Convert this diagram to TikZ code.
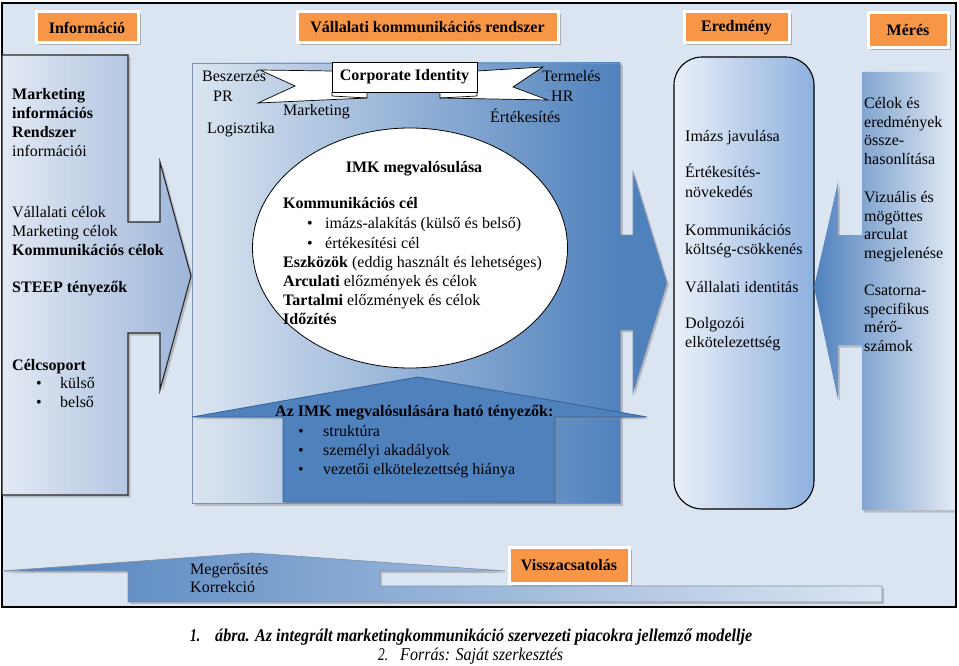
\documentclass[tikz,border=0pt]{standalone}
\usepackage{graphicx}
\usepackage{fontspec}
\setmainfont{Liberation Serif}
\usetikzlibrary{shadows,shapes.geometric}
\definecolor{bg}{HTML}{DBE5F1}
\definecolor{org}{HTML}{F79646}
\definecolor{dblue}{HTML}{4F81BD}
\definecolor{dline}{HTML}{35609A}
\definecolor{gline}{HTML}{7F91AD}
\definecolor{lfL}{HTML}{E3E9F3}
\definecolor{lfR}{HTML}{9DB5D9}
\definecolor{mdL}{HTML}{DBE5F1}
\definecolor{mdM}{HTML}{A4BCDF}
\definecolor{erL}{HTML}{EBF0F9}
\definecolor{erM}{HTML}{C9D8EE}
\definecolor{erR}{HTML}{8DB0DE}
\definecolor{msR}{HTML}{E3EAF4}
\definecolor{fbM}{HTML}{AFC3E2}
\definecolor{fbR}{HTML}{DCE5F2}
\newcommand\fsz{\fontsize{16}{19}\selectfont}
\newcommand\capfsz{\fontsize{18}{19}\selectfont}
\begin{document}
\begin{tikzpicture}[x=1pt,y=-1pt,
  txt/.style={anchor=base west,inner sep=0pt,font=\fsz},
  btxt/.style={anchor=base west,inner sep=0pt,font=\fsz\bfseries},
  bul/.style={anchor=base west,inner sep=0pt,font=\fsz},
  captxt/.style={anchor=base west,inner sep=0pt,font=\capfsz\itshape},
  hdr/.style={fill=org,draw=white,line width=3pt,font=\fsz\bfseries,inner sep=0pt,
    drop shadow={shadow xshift=2.5pt,shadow yshift=-2.5pt,fill=black!50,opacity=0.55}},
  shc/.style={fill=black!45,opacity=0.45}]
% canvas
\fill[white] (0,0) rectangle (959,666);
\useasboundingbox (0,0) rectangle (959,666);
\draw[fill=bg,line width=1.2pt] (2,3) rectangle (956,607);

% headers
\node[hdr,minimum width=102pt,minimum height=31pt] (hinfo) at (87,27.5) {Információ};
\node[hdr,minimum width=261pt,minimum height=31pt] (hvall) at (427.5,27.5) {Vállalati kommunikációs rendszer};
\node[hdr,minimum width=105pt,minimum height=31pt] (hered) at (736.5,27.5) {Eredmény};
\node[hdr,minimum width=80pt,minimum height=35pt] (hmeres) at (908,30) {Mérés};

% left information arrow
\fill[shc,shift={(2.5,2.5)}] (2,55) -- (128,55) -- (128,222) -- (160,222) -- (160,162) -- (191,276) -- (160,390) -- (160,333) -- (128,333) -- (128,495) -- (2,495) -- cycle;
\draw[line width=1.1pt,draw=black!85,left color=lfL,right color=lfR]
  (2,55) -- (128,55) -- (128,222) -- (160,222) -- (160,162) -- (191,276) -- (160,390) -- (160,333) -- (128,333) -- (128,495) -- (2,495) -- cycle;

% middle system box
\fill[shc,shift={(2.5,2.5)}] (192,63) rectangle (620,503);
\path[draw=gline,line width=0.8pt,left color=mdL,middle color=mdM,right color=dblue] (192,63) rectangle (620,503);
\fill[shc,shift={(2,2)}] (620,235) -- (633,235) -- (633,172) -- (667,283) -- (633,393) -- (633,330) -- (620,330) -- cycle;
\draw[draw=gline,line width=0.6pt,fill=dblue] (620,235) -- (633,235) -- (633,172) -- (667,283) -- (633,393) -- (633,330) -- (620,330);

% labels around ribbon
\node[txt] (besz) at (202,82) {Beszerzés};
\node[txt] (pr) at (213,102) {PR};
\node[txt] (mark) at (283,116) {Marketing};
\node[txt] (logi) at (207,134) {Logisztika};
\node[txt] (term) at (542,82) {Termelés};
\node[txt] (hr) at (551,102) {HR};
\node[txt] (ert) at (490,123) {Értékesítés};

% ribbon
\draw[fill=white,line width=0.7pt] (332,71) -- (260,70) -- (295,86) -- (258,103) -- (367,98) -- (367,92) -- cycle;
\draw[fill=white,line width=0.7pt] (477,71) -- (543,67) -- (513,87) -- (548,100) -- (440,98) -- (440,92) -- cycle;
\draw[line width=0.7pt] (332,92) -- (332,96) -- (367,98);
\draw[line width=0.7pt] (477,92) -- (477,96) -- (440,98);
\node[draw,fill=white,line width=0.8pt,minimum width=145pt,minimum height=30pt,inner sep=0pt,font=\fsz\bfseries] (ci) at (404.5,77) {Corporate Identity};

% ellipse
\node[draw,fill=white,ellipse,line width=0.8pt,minimum width=315pt,minimum height=240pt,inner sep=0pt] (imk) at (410,248) {};
\node[anchor=base,inner sep=0pt,font=\fsz\bfseries] (imkt) at (414,172) {IMK megvalósulása};
\node[btxt] (kc) at (283,208) {Kommunikációs cél};
\node[bul] (b1) at (307,229) {•};
\node[txt] (e1) at (325,229) {imázs-alakítás (külső és belső)};
\node[bul] (b2) at (307,248) {•};
\node[txt] (e2) at (325,248) {értékesítési cél};
\node[txt] (e3) at (283,267) {\textbf{Eszközök} (eddig használt és lehetséges)};
\node[txt] (e4) at (283,286) {\textbf{Arculati} előzmények és célok};
\node[txt] (e5) at (283,305) {\textbf{Tartalmi} előzmények és célok};
\node[btxt] (e6) at (283,324) {Időzítés};

% up arrow: factors
\fill[shc,shift={(2,2)}] (192,417) -- (418,377) -- (647,417) -- (555,417) -- (555,502) -- (283,502) -- (283,417) -- cycle;
\draw[draw=dline,line width=0.8pt,fill=dblue] (192,417) -- (418,377) -- (647,417) -- (555,417) -- (555,502) -- (283,502) -- (283,417) -- cycle;
\node[btxt] (ft) at (275,416) {Az IMK megvalósulására ható tényezők:};
\node[bul] (fb1) at (298,436) {•};
\node[txt] (f1) at (323,436) {struktúra};
\node[bul] (fb2) at (298,455) {•};
\node[txt] (f2) at (323,455) {személyi akadályok};
\node[bul] (fb3) at (298,474) {•};
\node[txt] (f3) at (323,474) {vezetői elkötelezettség hiánya};

% left texts
\node[btxt] (l1) at (12,100) {Marketing};
\node[btxt] (l2) at (12,119) {információs};
\node[btxt] (l3) at (12,138) {Rendszer};
\node[txt] (l4) at (12,157) {információi};
\node[txt] (l5) at (12,218) {Vállalati célok};
\node[txt] (l6) at (12,236) {Marketing célok};
\node[btxt] (l7) at (12,255) {Kommunikációs célok};
\node[btxt] (l8) at (12,292) {STEEP tényezők};
\node[btxt] (l9) at (12,370) {Célcsoport};
\node[bul] (lb1) at (36,388) {•};
\node[txt] (l10) at (60,388) {külső};
\node[bul] (lb2) at (36,407) {•};
\node[txt] (l11) at (60,407) {belső};

% result box
\node[draw,line width=1.1pt,rounded corners=28pt,minimum width=140pt,minimum height=452pt,inner sep=0pt,
  left color=erL,middle color=erM,right color=erR] (eredbox) at (744,283) {};
\node[txt] (r1) at (685,142) {Imázs javulása};
\node[txt] (r2) at (685,178) {Értékesítés-};
\node[txt] (r3) at (685,197) {növekedés};
\node[txt] (r4) at (685,235) {Kommunikációs};
\node[txt] (r5) at (685,254) {költség-csökkenés};
\node[txt] (r6) at (685,292) {Vállalati identitás};
\node[txt] (r7) at (685,328) {Dolgozói};
\node[txt] (r8) at (685,347) {elkötelezettség};

% measurement arrow
\fill[shc,shift={(2,2.5)}] (862,72) -- (955,72) -- (955,510) -- (862,510) -- (862,345) -- (838,345) -- (838,400) -- (814,287) -- (838,182) -- (838,235) -- (862,235) -- cycle;
\path[left color=dblue,right color=msR] (862,72) -- (955,72) -- (955,510) -- (862,510) -- (862,345) -- (838,345) -- (838,400) -- (814,287) -- (838,182) -- (838,235) -- (862,235) -- cycle;
\draw[line width=1.2pt] (956,3) -- (956,607);
\node[txt] (m1) at (864,109) {Célok és};
\node[txt] (m2) at (864,128) {eredmények};
\node[txt] (m3) at (864,146) {össze-};
\node[txt] (m4) at (864,165) {hasonlítása};
\node[txt] (m5) at (864,202) {Vizuális és};
\node[txt] (m6) at (864,221) {mögöttes};
\node[txt] (m7) at (864,240) {arculat};
\node[txt] (m8) at (864,258) {megjelenése};
\node[txt] (m9) at (864,295) {Csatorna-};
\node[txt] (m10) at (864,314) {specifikus};
\node[txt] (m11) at (864,332) {mérő-};
\node[txt] (m12) at (864,351) {számok};

% feedback arrow
\fill[shc,shift={(2,2)}] (2,571) -- (252,553) -- (505,571) -- (380,571) -- (380,586) -- (882,586) -- (882,602) -- (128,602) -- (128,571) -- cycle;
\draw[draw=gline,line width=0.7pt,left color=dblue,middle color=fbM,right color=fbR]
  (2,571) -- (252,553) -- (505,571) -- (380,571) -- (380,586) -- (882,586) -- (882,602) -- (128,602) -- (128,571) -- cycle;
\node[txt] (k1) at (190,574) {Megerősítés};
\node[txt] (k2) at (190,592) {Korrekció};
\node[hdr,minimum width=120pt,minimum height=36pt] (vissza) at (569,565) {Visszacsatolás};

% caption
\node[captxt] (c1n) at (190,641) {\resizebox{10pt}{\height}{\bfseries 1.}};
\node[captxt] (c1) at (215,641) {\resizebox{537pt}{\height}{\bfseries ábra. Az integrált marketingkommunikáció szervezeti piacokra jellemző modellje}};
\node[captxt] (c2n) at (378,660) {\resizebox{10pt}{\height}{2.}};
\node[captxt] (c2) at (400,660) {\resizebox{163pt}{\height}{Forrás: Saját szerkesztés}};
\end{tikzpicture}
\end{document}
